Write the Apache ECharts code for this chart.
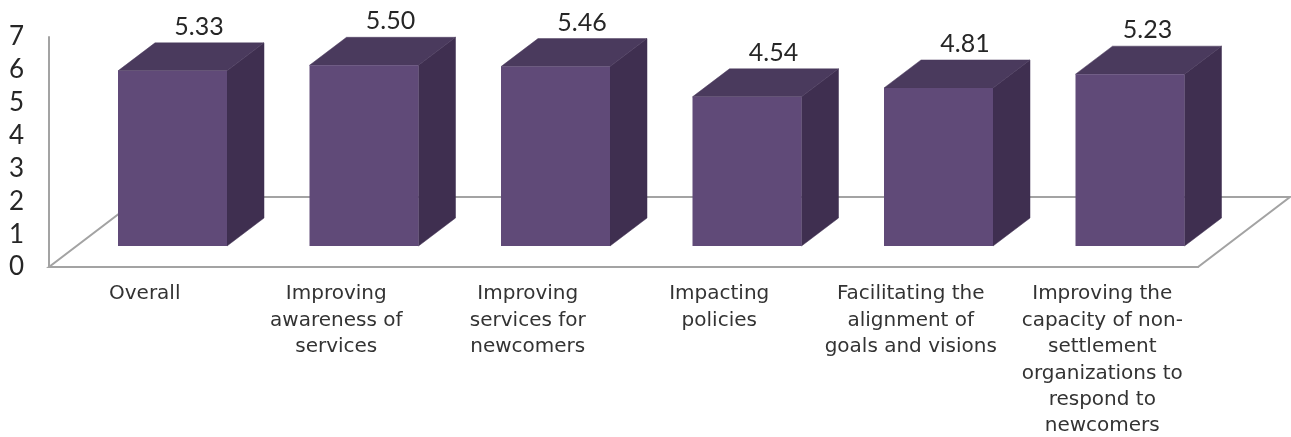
<!DOCTYPE html>
<html><head><meta charset="utf-8">
<style>html,body{margin:0;padding:0;background:#fff}#c{width:1291px;height:437px}</style>
<script src="https://cdn.jsdelivr.net/npm/echarts@6/dist/echarts.min.js"></script>
</head><body><div id="c"></div>
<script>
const categories = ["Overall","Improving\nawareness of\nservices","Improving\nservices for\nnewcomers","Impacting\npolicies","Facilitating the\nalignment of\ngoals and visions","Improving the\ncapacity of non-\nsettlement\norganizations to\nrespond to\nnewcomers"];
const values = [5.33,5.50,5.46,4.54,4.81,5.23];
const yTicks = [0,1,2,3,4,5,6,7];

const FONT = 'Lato, sans-serif';
const LABEL_FONT = '"DejaVu Sans", sans-serif';
const BAR_W = 109, BAR_DX = 37, BAR_DY = 28, BAR_LIFT = 21, BAR_SHIFT = 27.75;
const FLOOR_DX = 92, FLOOR_DY = 70;

function renderFloor(params, api) {
  const g = params.coordSys;
  const l = g.x, r = g.x + g.width, b = g.y + g.height;
  return { type:'polygon', silent:true,
    shape:{points:[[l,b],[r,b],[r+FLOOR_DX,b-FLOOR_DY],[l+FLOOR_DX,b-FLOOR_DY]]},
    style:{fill:'none',stroke:'#a3a3a3',lineWidth:2}};
}
function renderBar(params, api) {
  const i = api.value(0), v = api.value(1);
  const c = api.coord([i, v]), base = api.coord([i, 0]);
  const x0 = c[0] + BAR_SHIFT - BAR_W/2, x1 = x0 + BAR_W;
  const yb = base[1] - BAR_LIFT, yt = c[1] - BAR_LIFT;
  const labelShift = i === categories.length-1 ? -9 : 0;
  return { type:'group', children:[
    {type:'polygon',shape:{points:[[x1,yt],[x1+BAR_DX,yt-BAR_DY],[x1+BAR_DX,yb-BAR_DY],[x1,yb]]},style:{fill:'#3f2f50',stroke:'#3f2f50',lineWidth:0.5}},
    {type:'polygon',shape:{points:[[x0,yt],[x0+BAR_DX,yt-BAR_DY],[x1+BAR_DX,yt-BAR_DY],[x1,yt]]},style:{fill:'#4a3a5d',stroke:'#4a3a5d',lineWidth:0.5}},
    {type:'rect',shape:{x:x0,y:yt,width:BAR_W,height:yb-yt},style:{fill:'#604a78'}},
    {type:'text',style:{text:v.toFixed(2),x:(x0+x1)/2+26.5+labelShift,y:yt-BAR_DY-16,align:'center',verticalAlign:'middle',font:'25px '+FONT,fill:'#262626'}}
  ]};
}
const chart = echarts.init(document.getElementById('c'),null,{renderer:'canvas'});
chart.setOption({
  animation:false,
  backgroundColor:'#fff',
  grid:{left:49,right:93,top:37,bottom:170,containLabel:false,outerBoundsMode:'none'},
  xAxis:{type:'category',data:categories,boundaryGap:true,
    axisLine:{show:true,lineStyle:{color:'#a3a3a3',width:2}},axisTick:{show:false},
    axisLabel:{interval:0,margin:14,color:'#333',fontFamily:LABEL_FONT,fontSize:20,lineHeight:26.4,align:'center',hideOverlap:false}},
  yAxis:{type:'value',min:yTicks[0],max:yTicks[yTicks.length-1],interval:1,
    axisLine:{show:true,lineStyle:{color:'#a3a3a3',width:2}},axisTick:{show:false},splitLine:{show:false},
    axisLabel:{margin:25,color:'#262626',fontFamily:FONT,fontSize:26,padding:[3,0,0,0]}},
  series:[
    {type:'custom',coordinateSystem:'cartesian2d',renderItem:renderFloor,data:[[0,0]],z:1,clip:false,silent:true},
    {type:'custom',coordinateSystem:'cartesian2d',renderItem:renderBar,data:values.map((v,i)=>[i,v]),z:2,clip:false,encode:{x:0,y:1}}
  ]
});
</script></body></html>
